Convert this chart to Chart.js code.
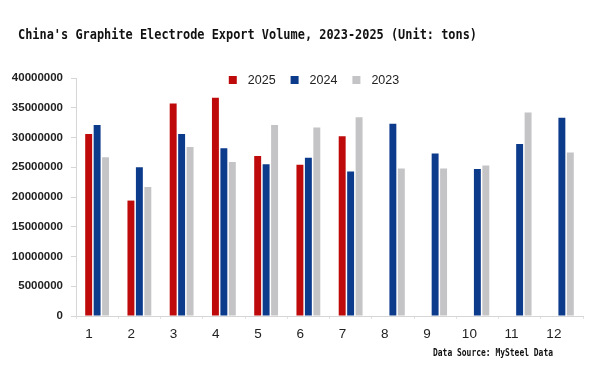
<!DOCTYPE html>
<html>
<head>
<meta charset="utf-8">
<script src="https://cdn.jsdelivr.net/npm/chart.js@4.4.1/dist/chart.umd.min.js"></script>
<style>
  html, body { margin: 0; padding: 0; background: #ffffff; }
  #wrap { width: 600px; height: 368px; }
</style>
</head>
<body>
<div id="wrap"><canvas id="c" width="600" height="368"></canvas></div>
<script>
// ---- data ----
const months = ['1', '2', '3', '4', '5', '6', '7', '8', '9', '10', '11', '12'];
const seriesNames = ['2025', '2024', '2023'];
const v2025 = [30600000, 19400000, 35700000, 36700000, 26900000, 25400000, 30200000, null, null, null, null, null];
const v2024 = [32100000, 25000000, 30600000, 28200000, 25500000, 26600000, 24300000, 32300000, 27300000, 24700000, 28900000, 33300000];
const v2023 = [26700000, 21700000, 28400000, 25900000, 32100000, 31700000, 33400000, 24800000, 24800000, 25300000, 34200000, 27500000];
const yTickMax = 40000000;
const yTickStep = 5000000;
const titleText = "China's Graphite Electrode Export Volume, 2023-2025 (Unit: tons)";
const sourceText = 'Data Source: MySteel Data';

const colors = ['#BE0A0A', '#0C3B8C', '#C4C4C6'];

// Custom overlay: title, legend (drawn inside plot top), source note
const overlay = {
  id: 'overlay',
  afterDraw(chart) {
    const ctx = chart.ctx;
    ctx.save();
    // title (condensed monospace look)
    ctx.font = 'bold 14.5px "DejaVu Sans Mono"';
    ctx.fillStyle = '#111111';
    ctx.textBaseline = 'middle';
    ctx.textAlign = 'left';
    let w = ctx.measureText(titleText).width;
    let s = 459 / w;
    ctx.save();
    ctx.translate(18, 35);
    ctx.scale(s, 1);
    ctx.fillText(titleText, 0, 0);
    ctx.restore();

    // source note
    ctx.font = 'bold 10px "DejaVu Sans Mono"';
    w = ctx.measureText(sourceText).width;
    s = 120 / w;
    ctx.save();
    ctx.translate(433, 353);
    ctx.scale(s, 1);
    ctx.fillText(sourceText, 0, 0);
    ctx.restore();

    // legend
    ctx.font = '12.5px "Liberation Sans"';
    const box = 8, gapText = 11, gapItem = 15;
    const items = chart.data.datasets.map((d, i) => ({
      label: d.label, color: d.backgroundColor, tw: ctx.measureText(d.label).width
    }));
    const total = items.reduce((a, it) => a + box + gapText + it.tw, 0) + gapItem * (items.length - 1);
    let x = 314 - total / 2;
    const yc = 80;
    items.forEach(it => {
      ctx.fillStyle = it.color;
      ctx.fillRect(x, yc - box / 2, box, box);
      x += box + gapText;
      ctx.fillStyle = '#222222';
      ctx.fillText(it.label, x, yc + 0.5);
      x += it.tw + gapItem;
    });
    ctx.restore();
  }
};

new Chart(document.getElementById('c'), {
  type: 'bar',
  data: {
    labels: months,
    datasets: [
      { label: seriesNames[0], data: v2025, backgroundColor: colors[0] },
      { label: seriesNames[1], data: v2024, backgroundColor: colors[1] },
      { label: seriesNames[2], data: v2023, backgroundColor: colors[2] }
    ]
  },
  options: {
    responsive: false,
    devicePixelRatio: 1,
    animation: false,
    layout: { padding: { top: 78, right: 17, left: 0, bottom: 0 } },
    datasets: { bar: { categoryPercentage: 0.6, barPercentage: 0.82 } },
    plugins: {
      legend: { display: false },
      title: { display: false },
      tooltip: { enabled: false }
    },
    scales: {
      x: {
        grid: { drawOnChartArea: false, drawTicks: true, tickLength: 3, color: '#E2E2E2' },
        border: { color: '#D6D6D6' },
        ticks: {
          font: { family: 'Liberation Sans', size: 13.5 },
          color: '#222222',
          padding: 7,
          labelOffset: -8,
          maxRotation: 0
        },
        afterFit(scale) { scale.height = 368 - 316; }
      },
      y: {
        min: 0,
        max: yTickMax,
        grid: { drawOnChartArea: false, drawTicks: true, tickLength: 5, color: '#D6D6D6' },
        border: { color: '#D6D6D6' },
        ticks: {
          stepSize: yTickStep,
          font: { family: 'Liberation Sans', size: 11.5, weight: 'bold' },
          color: '#222222',
          padding: 8,
          callback: v => String(v)
        },
        afterFit(scale) { scale.width = 76; }
      }
    }
  },
  plugins: [overlay]
});
</script>
</body>
</html>
